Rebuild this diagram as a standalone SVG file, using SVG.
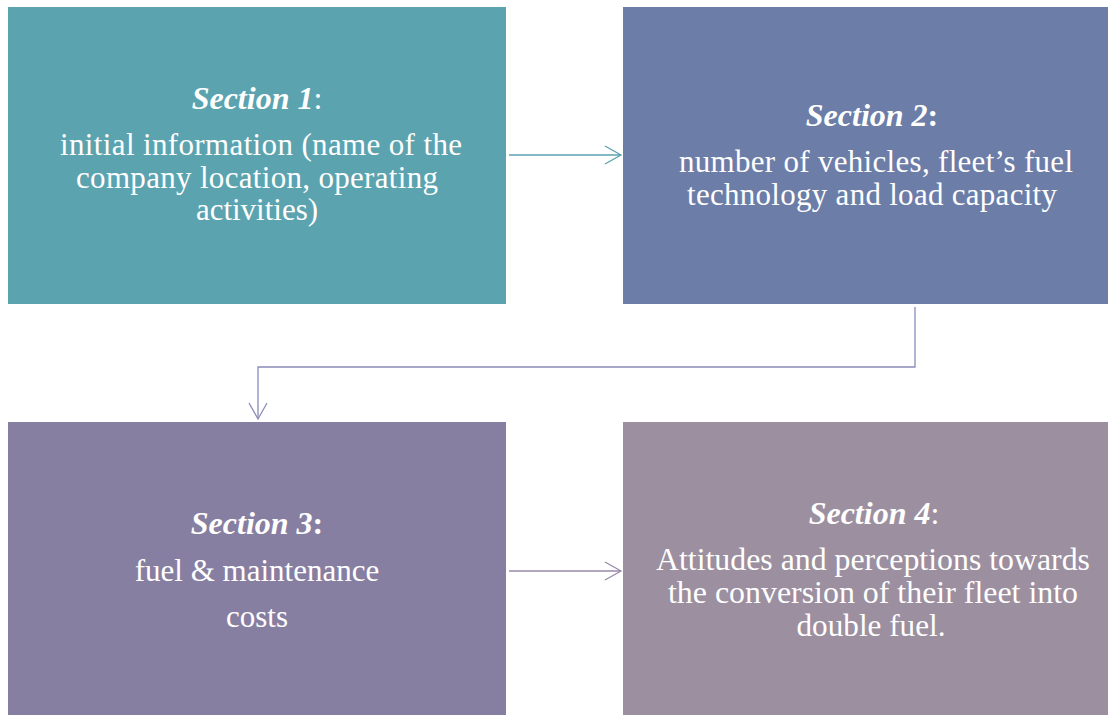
<svg xmlns="http://www.w3.org/2000/svg" width="1108" height="715" viewBox="0 0 1108 715">
  <style>
    .box { stroke: none; }
    .t { font-family: "Liberation Serif", "Times New Roman", serif; font-size: 31px; fill: #ffffff; text-anchor: middle; }
    .h { font-style: italic; font-weight: bold; font-size: 32px; }
    .b { font-weight: bold; font-style: normal; font-size: 32px; }
    .n { font-weight: normal; font-style: normal; font-size: 32px; }
    .c { fill: none; stroke-width: 1.3; }
  </style>
  <rect width="1108" height="715" fill="#ffffff"/>

  <g id="section1">
    <rect class="box" x="8" y="7" width="498" height="297" fill="#5BA3AF"/>
    <text class="t" x="257" y="109"><tspan class="h">Section 1</tspan><tspan class="n">:</tspan></text>
    <text class="t" x="261" y="155" textLength="402" lengthAdjust="spacing">initial information (name of the</text>
    <text class="t" x="257" y="188" textLength="362" lengthAdjust="spacing">company location, operating</text>
    <text class="t" x="257" y="220">activities)</text>
  </g>

  <g id="section2">
    <rect class="box" x="623" y="7" width="498" height="297" fill="#6C7DA7"/>
    <text class="t" x="872" y="126"><tspan class="h">Section 2</tspan><tspan class="b">:</tspan></text>
    <text class="t" x="876" y="172" textLength="394" lengthAdjust="spacing">number of vehicles, fleet’s fuel</text>
    <text class="t" x="872" y="205" textLength="370" lengthAdjust="spacing">technology and load capacity</text>
  </g>

  <g id="section3">
    <rect class="box" x="8" y="422" width="498" height="293" fill="#877FA1"/>
    <text class="t" x="257" y="534"><tspan class="h">Section 3</tspan><tspan class="b">:</tspan></text>
    <text class="t" x="257" y="581">fuel &amp; maintenance</text>
    <text class="t" x="257" y="627">costs</text>
  </g>

  <g id="section4">
    <rect class="box" x="623" y="422" width="498" height="293" fill="#9C8FA0"/>
    <text class="t" x="874" y="524"><tspan class="h">Section 4</tspan><tspan class="n">:</tspan></text>
    <text class="t" x="873" y="570" textLength="434" lengthAdjust="spacingAndGlyphs">Attitudes and perceptions towards</text>
    <text class="t" x="873" y="603" textLength="410" lengthAdjust="spacingAndGlyphs">the conversion of their fleet into</text>
    <text class="t" x="871" y="636" textLength="149" lengthAdjust="spacingAndGlyphs">double fuel.</text>
  </g>

  <g id="connectors">
    <!-- 1 to 2 -->
    <path class="c" stroke="#5BA3AF" d="M509 155 H621"/>
    <path class="c" stroke="#5BA3AF" d="M605 146 L621 155 L605 164"/>
    <!-- 2 to 3 -->
    <path class="c" stroke="#8A8CB8" d="M915 307 V367 H258 V419"/>
    <path class="c" stroke="#8A8CB8" d="M249 403 L258 419 L267 403"/>
    <!-- 3 to 4 -->
    <path class="c" stroke="#9A8AAA" d="M509 571 H621"/>
    <path class="c" stroke="#9A8AAA" d="M605 562 L621 571 L605 580"/>
  </g>
</svg>
